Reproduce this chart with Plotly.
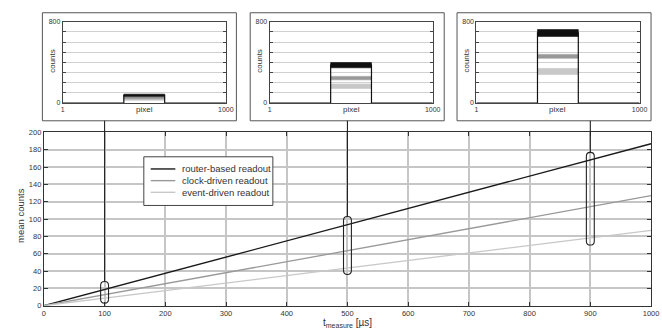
import plotly.graph_objects as go

W, H = 662, 336
FONT = "Liberation Sans, Arial, sans-serif"

# ---------------- data ----------------
t_us = [0, 1000]
series_names = ["router-based readout", "clock-driven readout", "event-driven readout"]
router_counts = [0, 187]
clock_counts = [0, 127]
event_counts = [0, 87]
series_colors = ["#1a1a1a", "#999999", "#c8c8c8"]

x_ticks = [0, 100, 200, 300, 400, 500, 600, 700, 800, 900, 1000]
y_ticks = [0, 20, 40, 60, 80, 100, 120, 140, 160, 180, 200]

# inset spectra (counts per pixel), one entry per inset
inset_times = [100, 500, 900]
pixel_on = [375, 625]
pixel_range = [1, 1000]
router_level = [75, 373, 690]
router_noise = [12, 26, 34]
clock_level = [50, 245, 460]
clock_noise = [8, 17, 19]
event_level = [35, 165, 310]
event_noise = [8, 22, 30]
inset_y_labels = [0, 800]
inset_y_step = 100

# highlighted ranges (pills) on the main plot
pill_lo = [3, 36, 70]
pill_hi = [28, 103, 177]

# ---------------- helpers ----------------
def px_x(p):
    return p / W

def px_y(p):
    return 1 - p / H

fig = go.Figure()

# main lines
for name, ys, col, wd in zip(series_names, [router_counts, clock_counts, event_counts],
                             series_colors, [1.4, 1.3, 1.3]):
    fig.add_trace(go.Scatter(x=t_us, y=ys, mode="lines", name=name,
                             line=dict(color=col, width=wd), showlegend=False,
                             xaxis="x", yaxis="y"))

# inset geometry (pixels)
box_left = [41, 252, 462]
box_w = 197
box_top, box_bot = 9, 120
inner_left = [61.7, 271.7, 481.7]
inner_w = 165.6
inner_top, inner_bot = 18.3, 101.7

main_dom_x = [px_x(42.5), px_x(659)]
main_dom_y = [px_y(310), px_y(132)]

layout = dict(
    width=W, height=H, margin=dict(l=0, r=0, t=0, b=0),
    paper_bgcolor="white", plot_bgcolor="white", showlegend=False,
    font=dict(family=FONT, color="#333"),
    xaxis=dict(domain=main_dom_x, range=[0, 1000], tickvals=x_ticks,
               showgrid=True, gridcolor="#c6c6c6", gridwidth=1.5,
               ticks="inside", ticklen=4, tickcolor="#333",
               showline=True, linecolor="#333", linewidth=1, mirror="ticks",
               zeroline=False, tickfont=dict(size=7.5, color="#333"), anchor="y"),
    yaxis=dict(domain=main_dom_y, range=[0, 200], tickvals=y_ticks,
               showgrid=True, gridcolor="#c6c6c6", gridwidth=1.5,
               ticks="inside", ticklen=4, tickcolor="#333",
               showline=True, linecolor="#333", linewidth=1, mirror="ticks",
               zeroline=False, tickfont=dict(size=7.5, color="#333"), anchor="x"),
)

shapes = []
annotations = []

for i in range(3):
    xa = f"x{i + 2}"
    ya = f"y{i + 2}"
    layout[f"xaxis{i + 2}"] = dict(
        domain=[px_x(inner_left[i]), px_x(inner_left[i] + inner_w)],
        range=pixel_range, tickvals=pixel_range, ticktext=[str(v) for v in pixel_range],
        showgrid=False, ticks="", showline=True, linecolor="#444", linewidth=1,
        mirror=True, zeroline=False, tickfont=dict(size=7, color="#333"), anchor=ya)
    layout[f"yaxis{i + 2}"] = dict(
        domain=[px_y(inner_bot), px_y(inner_top)],
        range=[0, 800], tickvals=inset_y_labels,
        showgrid=False, ticks="inside", ticklen=3, tickcolor="#444",
        minor=dict(dtick=inset_y_step, tick0=0, showgrid=True, gridcolor="#d0d0d0",
                   gridwidth=1, ticks="inside", ticklen=3, tickcolor="#444"),
        showline=True, linecolor="#444", linewidth=1, mirror="ticks",
        zeroline=False, tickfont=dict(size=7, color="#333"), anchor=xa)

    # noise bands: event, clock, router
    for lvl, nz, col in [(event_level[i], event_noise[i], series_colors[2]),
                         (clock_level[i], clock_noise[i], series_colors[1]),
                         (router_level[i], router_noise[i], "#111111")]:
        fig.add_trace(go.Scatter(
            x=[pixel_on[0], pixel_on[1], pixel_on[1], pixel_on[0], pixel_on[0]],
            y=[lvl - nz, lvl - nz, lvl + nz, lvl + nz, lvl - nz],
            mode="lines", fill="toself", fillcolor=col, line=dict(color=col, width=0.6),
            showlegend=False, xaxis=xa, yaxis=ya, hoverinfo="skip"))
    # router step outline
    L = router_level[i]
    fig.add_trace(go.Scatter(
        x=[pixel_range[0], pixel_on[0], pixel_on[0], pixel_on[1], pixel_on[1], pixel_range[1]],
        y=[0, 0, L, L, 0, 0], mode="lines", line=dict(color="#111", width=1.2),
        showlegend=False, xaxis=xa, yaxis=ya, hoverinfo="skip"))

    # outer box
    shapes.append(dict(type="rect", xref="paper", yref="paper", layer="below",
                       x0=px_x(box_left[i]), x1=px_x(box_left[i] + box_w),
                       y0=px_y(box_bot), y1=px_y(box_top),
                       line=dict(color="#555", width=1), fillcolor="white"))
    # inset titles
    annotations.append(dict(text="counts", xref="paper", yref="paper",
                            x=px_x(inner_left[i] - 10.5), y=px_y((inner_top + inner_bot) / 2 - 2),
                            textangle=-90, showarrow=False, xanchor="center", yanchor="middle",
                            font=dict(size=8, color="#333", family=FONT)))
    annotations.append(dict(text="pixel", xref="paper", yref="paper",
                            x=px_x(inner_left[i] + inner_w / 2), y=px_y(108),
                            showarrow=False, xanchor="center", yanchor="middle",
                            font=dict(size=8, color="#333", family=FONT)))

    # connector from inset to pill
    shapes.append(dict(type="line", xref="x", yref="paper",
                       x0=inset_times[i], x1=inset_times[i],
                       y0=px_y(box_bot), y1=main_dom_y[1],
                       line=dict(color="#222", width=1.1)))
    shapes.append(dict(type="line", xref="x", yref="y",
                       x0=inset_times[i], x1=inset_times[i],
                       y0=200, y1=pill_hi[i],
                       line=dict(color="#222", width=1.1)))
    # pill
    xc = inset_times[i]
    hw = 6.5   # half width in x units (~4 px)
    ry = 4.5   # corner radius in y units (~4 px)
    lo, hi = pill_lo[i], pill_hi[i]
    xl, xr = xc - hw, xc + hw
    path = (f"M {xl},{lo + ry} L {xl},{hi - ry} Q {xl},{hi} {xc},{hi} "
            f"Q {xr},{hi} {xr},{hi - ry} L {xr},{lo + ry} Q {xr},{lo} {xc},{lo} "
            f"Q {xl},{lo} {xl},{lo + ry} Z")
    shapes.append(dict(type="path", xref="x", yref="y", path=path,
                       line=dict(color="#222", width=1.1)))

# axis titles for main plot
annotations.append(dict(text="mean counts", xref="paper", yref="paper",
                        x=px_x(18), y=px_y(217), textangle=-90, showarrow=False,
                        xanchor="center", yanchor="middle",
                        font=dict(size=9.5, color="#333", family=FONT)))
annotations.append(dict(text="t<sub>measure</sub> [µs]", xref="x", yref="paper",
                        x=500, y=px_y(327.5), showarrow=False,
                        xanchor="center", yanchor="middle",
                        font=dict(size=10, color="#333", family=FONT)))

# manual legend
leg_l, leg_r, leg_t, leg_b = 144, 275, 157, 207
shapes.append(dict(type="rect", xref="paper", yref="paper",
                   x0=px_x(leg_l), x1=px_x(leg_r), y0=px_y(leg_b), y1=px_y(leg_t),
                   line=dict(color="#444", width=1), fillcolor="white", layer="above"))
row_y = [169.5, 181.5, 193.5]
for name, col, ry_ in zip(series_names, series_colors, row_y):
    shapes.append(dict(type="line", xref="paper", yref="paper",
                       x0=px_x(151), x1=px_x(176), y0=px_y(ry_), y1=px_y(ry_),
                       line=dict(color=col, width=1.4)))
    annotations.append(dict(text=name, xref="paper", yref="paper",
                            x=px_x(181), y=px_y(ry_), showarrow=False,
                            xanchor="left", yanchor="middle",
                            font=dict(size=9.5, color="#333", family=FONT)))

layout["shapes"] = shapes
layout["annotations"] = annotations
fig.update_layout(**layout)

fig.write_html("out.html")
